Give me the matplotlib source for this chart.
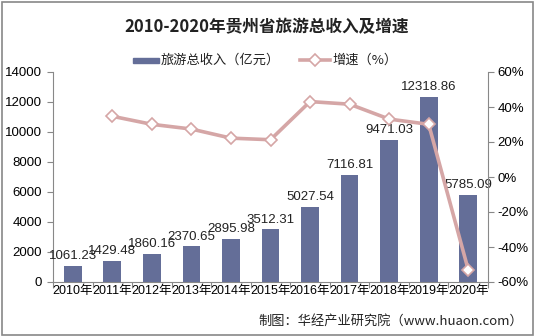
import matplotlib
matplotlib.use("Agg")
import matplotlib.pyplot as plt
from matplotlib.patches import Rectangle
from matplotlib.lines import Line2D
from matplotlib.ticker import FuncFormatter

plt.rcParams['font.family'] = ['Noto Sans CJK SC', 'DejaVu Sans']
NUM = ['Liberation Sans', 'Noto Sans CJK SC']

years = ["2010年", "2011年", "2012年", "2013年", "2014年", "2015年",
         "2016年", "2017年", "2018年", "2019年", "2020年"]
income = [1061.23, 1429.48, 1860.16, 2370.65, 2895.98, 3512.31,
          5027.54, 7116.81, 9471.03, 12318.86, 5785.09]
growth = [None, 34.7, 30.1, 27.4, 22.2, 21.3, 43.1, 41.6, 33.1, 30.1, -53.0]

bar_color = "#646e98"
line_color = "#d5a6a6"

fig = plt.figure(figsize=(5.34, 3.36), dpi=100)
W, H = 534, 336
ax = fig.add_axes([53 / W, 1 - 282 / H, (488 - 53) / W, (282 - 72) / H])
ax2 = ax.twinx()

x = list(range(len(years)))
ax.bar(x, income, width=0.45, color=bar_color, zorder=2)
for xi, v in zip(x, income):
    ax.text(xi, v + 250, f"{v:.2f}", ha="center", va="bottom", fontsize=9.5,
            family=NUM, color="#222222", zorder=5)

gx = [xi for xi, g in zip(x, growth) if g is not None]
gy = [g for g in growth if g is not None]
ax2.plot(gx, gy, color=line_color, lw=2.6, marker="D", ms=6.5,
         mfc="white", mec=line_color, mew=1.2, zorder=3)

ax.set_xlim(-0.5, len(years) - 0.5)
ax.set_ylim(0, 14000)
ax.set_yticks(range(0, 14001, 2000))
ax2.set_ylim(-60, 60)
ax2.set_yticks(range(-60, 61, 20))
ax2.yaxis.set_major_formatter(FuncFormatter(lambda v, p: f"{int(v)}%"))

ax.set_xticks([i - 0.5 for i in range(len(years) + 1)], minor=False)
ax.set_xticklabels([])
ax.set_xticks(x, minor=True)
ax.set_xticklabels(years, minor=True, fontsize=9, family=NUM)
ax.tick_params(axis="x", which="minor", length=0, pad=2)
ax.tick_params(axis="x", which="major", length=4, color="#888888")

for a in (ax, ax2):
    a.spines["top"].set_visible(False)
    a.patch.set_visible(False)
ax.spines["right"].set_visible(False)
ax2.spines["left"].set_visible(False)
ax2.spines["bottom"].set_visible(False)
ax.spines["left"].set_color("#888888")
ax.spines["bottom"].set_color("#888888")
ax2.spines["right"].set_color("#888888")
ax.tick_params(axis="y", labelsize=9.5, length=4, color="#888888", pad=4)
ax2.tick_params(axis="y", labelsize=9.5, length=4, color="#888888", pad=3)
for lab in ax.get_yticklabels() + ax2.get_yticklabels():
    lab.set_family(NUM)

fig.text(0.5, 1 - 27 / H, "2010-2020年贵州省旅游总收入及增速", ha="center", va="center",
         fontsize=12, fontweight="bold", color="#222222")

# legend
ly = 1 - 60 / H
fig.patches.append(Rectangle((133 / W, ly - 2.5 / H), 26 / W, 5 / H,
                             transform=fig.transFigure, color=bar_color))
fig.text(161 / W, ly, "旅游总收入（亿元）", ha="left", va="center", fontsize=9.5, color="#222222")
fig.lines.append(Line2D([300 / W, 330 / W], [ly, ly], transform=fig.transFigure,
                        color=line_color, lw=2.6))
fig.lines.append(Line2D([315 / W], [ly], transform=fig.transFigure, marker="D", ms=6.5,
                        mfc="white", mec=line_color, mew=1.2, color=line_color))
fig.text(332 / W, ly, "增速（%）", ha="left", va="center", fontsize=9.5, color="#222222")

fig.text(523 / W, 1 - 321 / H, "制图：华经产业研究院（www.huaon.com）", ha="right", va="center",
         fontsize=9.5, color="#222222")

fig.patches.append(Rectangle((1.5 / W, 1.5 / H), (W - 3) / W, (H - 3) / H,
                             transform=fig.transFigure, fill=False, ec="#888888", lw=1.2))

fig.savefig("out.png", dpi=100, facecolor="white")
